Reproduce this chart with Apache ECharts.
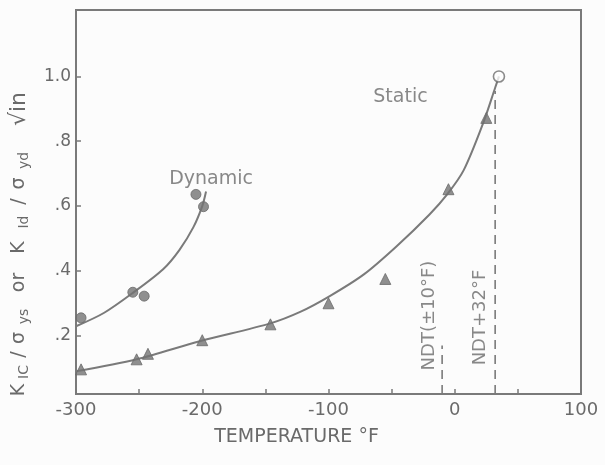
<!DOCTYPE html>
<html>
<head>
<meta charset="utf-8">
<script src="https://cdn.jsdelivr.net/npm/echarts@6/dist/echarts.min.js"></script>
<style>html,body{margin:0;padding:0;background:#fcfcfc;}#c{width:605px;height:465px;}</style>
</head>
<body>
<div id="c"></div>
<script>
// ---- data ----
var xTicks = [-300, -200, -100, 0, 100];
var yTickValues = [0.2, 0.4, 0.6, 0.8, 1.0];
var yTickLabels = ['.2', '.4', '.6', '.8', '1.0'];

var dynamicPoints = [[-296, 0.255], [-255, 0.334], [-246, 0.322], [-205, 0.636], [-199, 0.598]];
var staticPoints = [[-296, 0.096], [-252, 0.127], [-243, 0.144], [-200, 0.186], [-146, 0.235],
                    [-100, 0.30], [-55, 0.375], [-5, 0.652], [25, 0.872]];
var openPoint = [[35, 1.0]];

var dynamicCurve = [[-300, 0.229], [-278, 0.27], [-255, 0.332], [-231, 0.405], [-218, 0.465],
                    [-207, 0.535], [-200, 0.60], [-197, 0.645]];
var staticCurve = [[-300, 0.09], [-252, 0.127], [-202, 0.183], [-146, 0.238], [-122, 0.274],
                   [-99, 0.322], [-72, 0.389], [-46, 0.476], [-20, 0.574], [-6, 0.636],
                   [7, 0.71], [22.6, 0.857], [32, 0.965], [35, 1.0]];

var ndtMinus10Line = [[-10, 0.02], [-10, 0.17]];
var ndtPlus32Line = [[32, 0.02], [32, 0.955]];

var curveLabels = [{name: 'Dynamic', value: [-193, 0.682]}, {name: 'Static', value: [-43, 0.937]}];
var ndtLabels = [{name: 'NDT(±10°F)', value: [-20, 0.262]}, {name: 'NDT+32°F', value: [20, 0.256]}];

// ---- chart ----
var INK = '#7a7a7a';
var TXT = '#6a6a6a';
var FONT = 'DejaVu Sans';
function big(w, fs) { return {color: TXT, fontFamily: FONT, fontSize: fs || 19, lineHeight: 24, width: w, align: 'center'}; }
function sub(w) { return {color: TXT, fontFamily: FONT, fontSize: 14, lineHeight: 14, width: w, align: 'center', verticalAlign: 'bottom'}; }

var chart = echarts.init(document.getElementById('c'), null, {renderer: 'canvas'});
chart.setOption({
  backgroundColor: '#fcfcfc',
  animation: false,
  grid: {left: 76, right: 24, top: 10, bottom: 71, outerBoundsMode: 'none', containLabel: false,
         show: true, borderColor: INK, borderWidth: 2, backgroundColor: 'transparent'},
  xAxis: {
    type: 'value', min: -300, max: 100, interval: 50,
    axisLine: {show: true, onZero: false, lineStyle: {color: INK, width: 2}},
    axisTick: {show: true, inside: true, length: 5, lineStyle: {color: INK, width: 1.5}},
    splitLine: {show: false},
    axisLabel: {
      color: TXT, fontFamily: FONT, fontSize: 18, margin: 7,
      formatter: function (v) { return xTicks.indexOf(v) >= 0 ? String(v) : ''; }
    },
    name: 'TEMPERATURE °F', nameLocation: 'middle', nameGap: 34,
    nameTextStyle: {color: TXT, fontFamily: FONT, fontSize: 19, padding: [0, 64, 0, 0]}
  },
  yAxis: {
    type: 'value', min: 0.02, max: 1.205,
    axisLine: {show: true, onZero: false, lineStyle: {color: INK, width: 2}},
    axisTick: {show: true, inside: true, length: 5, customValues: yTickValues, lineStyle: {color: INK, width: 1.5}},
    splitLine: {show: false},
    axisLabel: {
      color: TXT, fontFamily: FONT, fontSize: 17, margin: 5, customValues: yTickValues,
      formatter: function (v) {
        for (var i = 0; i < yTickValues.length; i++) { if (Math.abs(v - yTickValues[i]) < 1e-6) return yTickLabels[i]; }
        return '';
      }
    },
    name: '{k1|K}{s1|IC}{sl1|/}{sg1|σ}{s2|ys}{or|or}{k2|K}{s3|Id}{sl2|/}{sg2|σ}{s4|yd}{rt|√in}',
    nameLocation: 'middle', nameGap: 45, nameRotate: 90,
    nameTextStyle: {
      color: TXT, fontFamily: FONT, fontSize: 19, padding: [0, 65, 0, 0],
      rich: {
        k1: big(16), s1: sub(20), sl1: big(15), sg1: big(18), s2: sub(25),
        or: big(43), k2: big(27), s3: sub(24), sl2: big(17), sg2: big(19), s4: sub(27),
        rt: big(76, 22)
      }
    }
  },
  series: [
    {type: 'line', data: staticCurve, smooth: 0.3, showSymbol: false, symbol: 'none',
     lineStyle: {color: INK, width: 2}, z: 2},
    {type: 'line', data: dynamicCurve, smooth: 0.3, showSymbol: false, symbol: 'none',
     lineStyle: {color: INK, width: 2}, z: 2},
    {type: 'line', data: ndtMinus10Line, symbol: 'none',
     lineStyle: {color: INK, width: 1.6, type: [9, 6]}, z: 2},
    {type: 'line', data: ndtPlus32Line, symbol: 'none',
     lineStyle: {color: INK, width: 1.6, type: [9, 6]}, z: 2},
    {type: 'scatter', data: staticPoints, symbol: 'triangle', symbolSize: 11,
     itemStyle: {color: '#737373', borderColor: '#6a6a6a', borderWidth: 1}, z: 3},
    {type: 'scatter', data: dynamicPoints, symbol: 'circle', symbolSize: 10,
     itemStyle: {color: '#737373', borderColor: '#6a6a6a', borderWidth: 1}, z: 3},
    {type: 'scatter', data: openPoint, symbol: 'circle', symbolSize: 11,
     itemStyle: {color: '#fcfcfc', borderColor: '#6e6e6e', borderWidth: 1.6}, z: 3},
    {type: 'scatter', data: curveLabels, symbolSize: 0, silent: true,
     label: {show: true, position: 'inside', formatter: '{b}', color: TXT, fontFamily: FONT, fontSize: 19}, z: 4},
    {type: 'scatter', data: ndtLabels, symbolSize: 0, silent: true,
     label: {show: true, position: 'inside', rotate: 90, formatter: '{b}', color: TXT, fontFamily: FONT, fontSize: 18}, z: 4}
  ]
});
</script>
</body>
</html>
